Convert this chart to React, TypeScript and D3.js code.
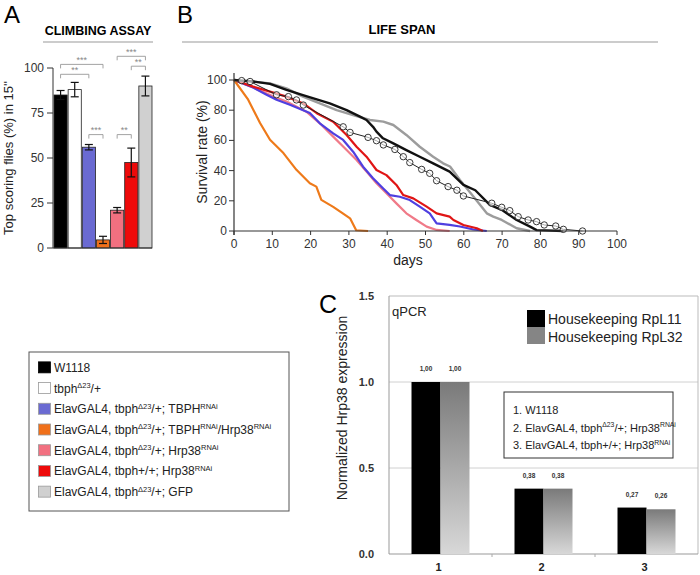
import React from 'react';
import * as d3 from 'd3';

const FONT = '"Liberation Sans", Arial, Helvetica, sans-serif';

// ---- A: climbing assay ----
const genotypes = [
  'W1118',
  'tbph^Δ23^/+',
  'ElavGAL4, tbph^Δ23^/+; TBPH^RNAi^',
  'ElavGAL4, tbph^Δ23^/+; TBPH^RNAi^/Hrp38^RNAi^',
  'ElavGAL4, tbph^Δ23^/+; Hrp38^RNAi^',
  'ElavGAL4, tbph+/+; Hrp38^RNAi^',
  'ElavGAL4, tbph^Δ23^/+; GFP',
];
const genotypeColors = ['#000000', '#ffffff', '#6a6ad2', '#f0701a', '#f27080', '#ee0a0a', '#d0d0d0'];
const climbMeans = [85, 88, 56, 4.5, 21, 47.5, 90];
const climbErrors = [2.5, 4, 1.5, 2, 1.5, 8, 5.5];
const climbTicks = [0, 25, 50, 75, 100];
// [from bar, to bar, stars, bracket level in %]
const climbSig: [number, number, string, number][] = [
  [0, 3, '***', 102],
  [0, 2, '**', 96.5],
  [2, 3, '***', 63],
  [4, 5, '**', 63],
  [4, 6, '***', 106.5],
  [5, 6, '**', 101],
];

// ---- B: life span (day, survival %) ----
const lifeW1118 = [[0,100],[2,99.6],[5,99],[9.4,97.4],[13.7,93.4],[18,90],[21.6,87.2],[25,84.5],[29.4,80],[32.9,75.7],[34.6,73.5],[36.3,69],[37.2,65.8],[38.9,61.4],[41.6,58],[45,53.6],[48.5,49.2],[52,44.8],[56.3,39.3],[59.9,30.5],[63,27],[66.8,17.3],[69.9,14],[73.8,7.3],[77.3,2.9],[79,0.6],[86,0]];
const lifeTbph = [[0,100],[2,99.6],[4.2,99],[11.1,90.2],[14.2,89],[16.3,86.8],[18.1,83.4],[28.5,69],[30.3,65.3],[35,62],[37.2,59.8],[39,57],[42,54],[44.2,49.2],[45.9,45.3],[49,40.8],[51.1,38.2],[52.9,33.3],[55.9,29.4],[58.2,27],[59.9,23.2],[67.3,18.4],[69.9,15.7],[72,13.5],[74.2,9.5],[76.8,7.3],[79,6.2],[81,4],[84,3.3],[86,1.1],[91,0]];
const lifeTbphRnai = [[0,100],[5,95],[8.5,90.2],[11.1,86.9],[14.6,83.6],[19.8,78.1],[22.4,71.3],[25.9,64.7],[28.5,60.3],[31.1,52.5],[33.7,42.6],[36.3,34.9],[38.9,28.3],[40.7,23.8],[43.3,22.7],[45.9,20.5],[48.5,16.1],[51.1,11.7],[52.9,5],[56.3,4],[59,3],[62.5,1],[66,0]];
const lifeDouble = [[0,100],[3.7,87],[6.8,71.5],[9.4,60.4],[12.9,51.6],[16.3,40.5],[19.8,31.6],[21.5,29.4],[22.8,20.6],[25.9,16],[28.5,11.5],[30.3,8.4],[31.9,0.5],[35,0]];
const lifeHrp38 = [[0,100],[5,95],[10.3,89],[13.7,85.7],[18.9,79],[22.4,71.3],[25.9,62.5],[29.4,53.6],[32,47],[34.6,39.3],[37.2,31.6],[39.8,25],[42.4,18.3],[45,11.7],[47.6,7.3],[50.3,2.9],[52.9,0.7],[56.3,0]];
const lifeWtHrp38 = [[0,100],[5,95.6],[9.4,92.3],[13.7,89],[18.1,84.5],[21.6,78],[25.9,72.4],[29.4,63.6],[32,55.8],[34.6,49.2],[37.2,40.4],[39.8,37],[42.4,30.5],[44.2,23.8],[46.8,21.6],[50.3,16.1],[52.9,11.7],[56.3,9.5],[57.3,7.3],[59.9,4],[63.4,1.8],[65,0]];
const lifeGfp = [[0,100],[5,99],[9.4,97.8],[13.7,94.5],[18,89],[22.4,84.5],[26.8,80],[31.1,76.8],[35.5,73.5],[39,72.4],[41.6,70.2],[45,63.6],[48.5,55.8],[52,49.2],[54.6,44.8],[56.4,42.7],[59,33.8],[62.5,22.8],[66,11.7],[67.7,9.5],[69.9,7.3],[73.8,1.8],[77.3,0]];
const lifeTicksX = [0, 10, 20, 30, 40, 50, 60, 70, 80, 90, 100];
const lifeTicksY = [0, 20, 40, 60, 80, 100];

// ---- C: qPCR ----
const qpcrGroups = ['1', '2', '3'];
const qpcrKeys = ['Housekeeping RpL11', 'Housekeeping RpL32'];
const qpcrRpL11 = [1.0, 0.38, 0.27];
const qpcrRpL32 = [1.0, 0.38, 0.26];
const qpcrTicks = [0, 0.5, 1.0, 1.5];
const qpcrNotes = ['1. W1118', '2. ElavGAL4, tbph^Δ23^/+; Hrp38^RNAi^', '3. ElavGAL4, tbph+/+; Hrp38^RNAi^'];

function Rich({ text, x, y, size, fill = '#222' }: any) {
  const parts = text.split('^');
  const sup = -size * 0.38;
  return (
    <text x={x} y={y} fontSize={size} fill={fill} fontFamily={FONT}>
      {parts.map((p: string, i: number) => {
        if (!p) return null;
        const isSup = i % 2 === 1;
        const prevSup = i > 0 && (i - 1) % 2 === 1 && parts[i - 1];
        const dy = isSup ? sup : prevSup ? -sup : 0;
        return (
          <tspan key={i} dy={dy} fontSize={isSup ? size * 0.62 : size}>{p}</tspan>
        );
      })}
    </text>
  );
}

function PanelA() {
  const x = d3.scaleBand<number>().domain(d3.range(genotypes.length)).range([54, 152]).paddingInner(0.07);
  const y = d3.scaleLinear().domain([0, 100]).range([248, 68]);
  const cx = (i: number) => (x(i) as number) + x.bandwidth() / 2;
  return (
    <g fontFamily={FONT}>
      <text x={4} y={23} fontSize={24}>A</text>
      <text x={98} y={35} fontSize={12.5} fontWeight="bold" textAnchor="middle">CLIMBING ASSAY</text>
      <line x1={43} x2={153} y1={42} y2={42} stroke="#bbb" strokeWidth={1.5} />
      {climbMeans.map((v, i) => (
        <g key={i}>
          <rect x={x(i)} y={y(v)} width={x.bandwidth()} height={y(0) - y(v)} fill={genotypeColors[i]} stroke="#222" strokeWidth={0.8} />
          <line x1={cx(i)} x2={cx(i)} y1={y(v + climbErrors[i])} y2={y(Math.max(0, v - climbErrors[i]))} stroke="#111" strokeWidth={1.2} />
          <line x1={cx(i) - 4} x2={cx(i) + 4} y1={y(v + climbErrors[i])} y2={y(v + climbErrors[i])} stroke="#111" strokeWidth={1.2} />
          <line x1={cx(i) - 4} x2={cx(i) + 4} y1={y(Math.max(0, v - climbErrors[i]))} y2={y(Math.max(0, v - climbErrors[i]))} stroke="#111" strokeWidth={1.2} />
        </g>
      ))}
      <line x1={53} x2={53} y1={y(100)} y2={y(0)} stroke="#333" />
      <line x1={53} x2={152} y1={y(0)} y2={y(0)} stroke="#333" />
      {climbTicks.map((t) => (
        <g key={t}>
          <line x1={47} x2={53} y1={y(t)} y2={y(t)} stroke="#333" />
          <text x={44} y={y(t) + 4} fontSize={12} textAnchor="end" fill="#333">{t}</text>
        </g>
      ))}
      <text transform={`translate(13,158) rotate(-90)`} fontSize={13} textAnchor="middle" fill="#222">
        Top scoring flies (%) in 15''
      </text>
      {climbSig.map(([a, b, s, lv], k) => {
        const yy = y(lv);
        return (
          <g key={k} stroke="#999" fill="none">
            <path d={`M${cx(a)},${yy + 4}V${yy}H${cx(b)}V${yy + 4}`} strokeWidth={0.9} />
            <text x={(cx(a) + cx(b)) / 2} y={yy - 1.5} fontSize={9} textAnchor="middle" fill="#888" stroke="none">{s}</text>
          </g>
        );
      })}
    </g>
  );
}

function Legend() {
  const y = d3.scaleBand<number>().domain(d3.range(genotypes.length)).range([357, 502]);
  return (
    <g fontFamily={FONT}>
      <rect x={29} y={352} width={260} height={159} fill="#fff" stroke="#555" strokeWidth={1} />
      {genotypes.map((g, i) => {
        const yc = (y(i) as number) + y.bandwidth() / 2;
        return (
          <g key={i}>
            <rect x={38.5} y={yc - 5.5} width={12} height={11} fill={genotypeColors[i]} stroke={i === 0 ? '#000' : '#999'} strokeWidth={0.8} />
            <Rich text={g} x={54} y={yc + 4.5} size={12} />
          </g>
        );
      })}
    </g>
  );
}

function PanelB() {
  const x = d3.scaleLinear().domain([0, 100]).range([234, 617]);
  const y = d3.scaleLinear().domain([0, 100]).range([231, 80]);
  const line = d3.line<number[]>().x((d) => x(d[0])).y((d) => y(d[1]));
  const series = [
    { pts: lifeHrp38, color: '#f07a88', w: 2.2 },
    { pts: lifeTbphRnai, color: '#4f3fe0', w: 2.2 },
    { pts: lifeWtHrp38, color: '#e01515', w: 2.2 },
    { pts: lifeDouble, color: '#ee7a1a', w: 2.2 },
    { pts: lifeGfp, color: '#9c9c9c', w: 2.4 },
    { pts: lifeW1118, color: '#111', w: 2.4 },
  ];
  return (
    <g fontFamily={FONT}>
      <text x={177} y={23} fontSize={24}>B</text>
      <text x={402} y={34} fontSize={13} fontWeight="bold" textAnchor="middle">LIFE SPAN</text>
      <line x1={182} x2={658} y1={42} y2={42} stroke="#bbb" strokeWidth={1.5} />
      {series.map((s, i) => (
        <path key={i} d={line(s.pts) as string} fill="none" stroke={s.color} strokeWidth={s.w} strokeLinejoin="round" />
      ))}
      <path d={line(lifeTbph) as string} fill="none" stroke="#222" strokeWidth={1} />
      {lifeTbph.slice(1).map((d, i) => (
        <circle key={i} cx={x(d[0])} cy={y(d[1])} r={3.2} fill="#fff" fillOpacity={0.6} stroke="#222" strokeWidth={0.9} />
      ))}
      <line x1={234} x2={234} y1={73} y2={235} stroke="#333" strokeWidth={1.2} />
      <line x1={234} x2={617} y1={231} y2={231} stroke="#333" strokeWidth={1.2} />
      {lifeTicksY.map((t) => (
        <g key={t}>
          <line x1={229} x2={234} y1={y(t)} y2={y(t)} stroke="#333" />
          <text x={227} y={y(t) + 4} fontSize={12} textAnchor="end" fill="#333">{t}</text>
        </g>
      ))}
      {lifeTicksX.map((t) => (
        <g key={t}>
          <line x1={x(t)} x2={x(t)} y1={231} y2={235} stroke="#333" />
          <text x={x(t)} y={248} fontSize={12} textAnchor="middle" fill="#333">{t}</text>
        </g>
      ))}
      <text x={408} y={265} fontSize={14} textAnchor="middle" fill="#222">days</text>
      <text transform={`translate(207,152) rotate(-90)`} fontSize={14} textAnchor="middle" fill="#222">Survival rate (%)</text>
    </g>
  );
}

function PanelC() {
  const x0 = d3.scaleBand<string>().domain(qpcrGroups).range([389, 698]);
  const x1 = d3.scaleBand<string>().domain(qpcrKeys).range([0, x0.bandwidth()]).paddingOuter(0.776);
  const y = d3.scaleLinear().domain([0, 1.5]).range([554, 296]);
  const fmt = (v: number) => d3.format('.2f')(v).replace('.', ',');
  const vals = [qpcrRpL11, qpcrRpL32];
  const fills = ['#000', 'url(#qgrad)'];
  return (
    <g fontFamily={FONT}>
      <defs>
        <linearGradient id="qgrad" x1="0" y1="0" x2="0" y2="1">
          <stop offset="0" stopColor="#7a7a7a" />
          <stop offset="1" stopColor="#d8d8d8" />
        </linearGradient>
      </defs>
      <text x={319} y={313} fontSize={25}>C</text>
      {[0.5, 1.0].map((t) => (
        <line key={t} x1={389} x2={698} y1={y(t)} y2={y(t)} stroke="#d0d0d0" />
      ))}
      <line x1={389} x2={698} y1={y(1.5)} y2={y(1.5)} stroke="#bbb" />
      <line x1={698} x2={698} y1={y(1.5)} y2={y(0)} stroke="#bbb" />
      <line x1={389} x2={389} y1={y(1.5)} y2={y(0)} stroke="#999" />
      <line x1={389} x2={698} y1={y(0)} y2={y(0)} stroke="#999" />
      {qpcrTicks.map((t) => (
        <text key={t} x={374} y={y(t) + 4} fontSize={11} fontWeight="bold" textAnchor="end" fill="#333">{d3.format('.1f')(t)}</text>
      ))}
      {qpcrGroups.map((g, gi) => (
        <g key={g}>
          {gi > 0 && <line x1={x0(g)} x2={x0(g)} y1={y(0)} y2={y(0) + 3} stroke="#aaa" />}
          {qpcrKeys.map((k, ki) => {
            const v = vals[ki][gi];
            const bx = (x0(g) as number) + (x1(k) as number);
            return (
              <g key={k}>
                <rect x={bx} y={y(v)} width={x1.bandwidth()} height={y(0) - y(v)} fill={fills[ki]} />
                <text x={bx + x1.bandwidth() / 2} y={y(v) - 11} fontSize={6.5} fontWeight="bold" textAnchor="middle" fill="#333">{fmt(v)}</text>
              </g>
            );
          })}
          <text x={(x0(g) as number) + x0.bandwidth() / 2 - 2} y={571} fontSize={11} fontWeight="bold" textAnchor="middle" fill="#222">{g}</text>
        </g>
      ))}
      <text transform={`translate(347,408) rotate(-90)`} fontSize={14} textAnchor="middle" fill="#222">Normalized Hrp38  expression</text>
      <text x={392} y={316} fontSize={13} fill="#222">qPCR</text>
      {qpcrKeys.map((k, i) => (
        <g key={k}>
          <rect x={527} y={310 + i * 17} width={18} height={17} fill={i === 0 ? '#000' : '#858585'} />
          <text x={548} y={324 + i * 18} fontSize={14} fill="#222">{k}</text>
        </g>
      ))}
      <rect x={504} y={392} width={169} height={66} fill="#fff" stroke="#333" />
      {qpcrNotes.map((n, i) => (
        <Rich key={i} text={n} x={513} y={414 + i * 17.5} size={11} />
      ))}
    </g>
  );
}

export default function App() {
  return (
    <svg width={700} height={575} style={{ position: 'absolute', left: 0, top: 0, background: '#fff' }}>
      <rect width={700} height={575} fill="#fff" />
      <PanelA />
      <Legend />
      <PanelB />
      <PanelC />
    </svg>
  );
}
